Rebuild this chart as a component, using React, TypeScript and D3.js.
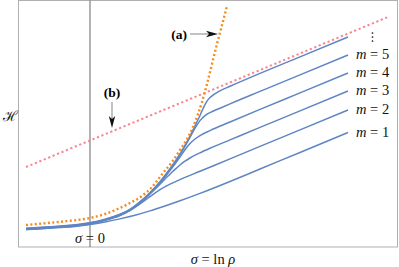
import * as d3 from "d3";
import React, { useEffect, useRef } from "react";

const W = 399;
const H = 267;

// curve samples, [sigma, H]
const curveA: [number, number][] = [
  [-1.6, 0.55], [-1.0, 0.605], [-0.5, 0.655], [0, 0.725], [0.375, 0.825], [0.75, 0.975],
  [1.0, 1.1], [1.3, 1.275], [1.55, 1.5], [1.825, 1.85], [2.05, 2.125], [2.25, 2.425],
  [2.425, 2.7], [2.575, 3.0], [2.7, 3.325], [2.8, 3.625], [2.925, 4.075], [3.05, 4.575],
  [3.175, 5.075], [3.3, 5.55], [3.425, 6.025],
];

const lineB: [number, number][] = [[-1.6, 2.0], [7.45, 5.75]];

const curveTop: [number, number][] = [
  [-1.6, 0.468], [-1.0, 0.505], [-0.5, 0.543], [0, 0.605], [0.375, 0.693], [0.75, 0.818],
  [1.0, 0.943], [1.25, 1.13], [1.5, 1.355], [1.75, 1.63], [2.0, 1.955], [2.25, 2.33],
  [2.45, 2.68], [2.625, 3.03], [2.75, 3.288], [2.85, 3.51], [2.925, 3.645], [3.0, 3.735],
  [3.1, 3.815], [3.25, 3.905], [3.5, 4.018], [4.25, 4.34], [5.25, 4.753], [6.45, 5.25],
];
const curveM5: [number, number][] = [
  [-1.6, 0.46], [-1.0, 0.498], [-0.5, 0.535], [0, 0.598], [0.375, 0.685], [0.75, 0.81],
  [1.0, 0.935], [1.25, 1.123], [1.5, 1.348], [1.75, 1.623], [2.0, 1.948], [2.25, 2.31],
  [2.5, 2.74], [2.625, 2.97], [2.75, 3.16], [2.875, 3.285], [3.0, 3.36], [3.25, 3.47],
  [3.5, 3.578], [4.25, 3.89], [5.25, 4.303], [6.45, 4.8],
];
const curveM4: [number, number][] = [
  [-1.6, 0.453], [-1.0, 0.49], [-0.5, 0.528], [0, 0.59], [0.375, 0.678], [0.75, 0.803],
  [1.0, 0.928], [1.25, 1.115], [1.5, 1.34], [1.75, 1.6], [2.0, 1.91], [2.25, 2.25],
  [2.375, 2.43], [2.5, 2.585], [2.625, 2.7], [2.75, 2.785], [3.0, 2.91], [3.5, 3.125],
  [4.25, 3.44], [5.25, 3.853], [6.45, 4.35],
];
const curveM3: [number, number][] = [
  [-1.6, 0.445], [-1.0, 0.483], [-0.5, 0.52], [0, 0.583], [0.375, 0.67], [0.75, 0.795],
  [1.0, 0.92], [1.25, 1.1], [1.5, 1.325], [1.75, 1.57], [1.875, 1.7], [2.0, 1.82],
  [2.125, 1.94], [2.25, 2.05], [2.375, 2.145], [2.5, 2.225], [2.75, 2.355], [3.0, 2.47],
  [3.5, 2.678], [4.25, 2.99], [5.25, 3.403], [6.45, 3.9],
];
const curveM2: [number, number][] = [
  [-1.6, 0.44], [-1.0, 0.478], [-0.5, 0.515], [0, 0.575], [0.25, 0.638], [0.75, 0.788],
  [1.0, 0.908], [1.25, 1.078], [1.5, 1.258], [1.75, 1.433], [2.0, 1.57], [2.25, 1.685],
  [2.75, 1.893], [3.5, 2.203], [4.25, 2.515], [5.25, 2.928], [6.45, 3.425],
];
const curveM1: [number, number][] = [
  [-1.6, 0.435], [-1.125, 0.465], [-0.75, 0.488], [-0.375, 0.515], [0, 0.56], [0.375, 0.625],
  [0.75, 0.703], [1.125, 0.795], [1.5, 0.903], [1.875, 1.025], [2.25, 1.155], [2.75, 1.34],
  [3.5, 1.638], [4.25, 1.95], [5.25, 2.363], [6.45, 2.863],
];

const blueCurves = [curveTop, curveM5, curveM4, curveM3, curveM2, curveM1];
const curveLabels = ["5", "4", "3", "2", "1"];

// annotation anchors
const arrowA: [number, number] = [3.2, 5.325];
const arrowB: [number, number] = [0.55, 2.975];

const serif = "'Liberation Serif', 'Times New Roman', 'DejaVu Serif', serif";

export default function App() {
  const svgRef = useRef<SVGSVGElement>(null);

  useEffect(() => {
    document.body.style.margin = "0";
    const svg = d3.select(svgRef.current);
    svg.selectAll("*").remove();

    const x = d3.scaleLinear().domain([-1.8, 7.7]).range([18, 398]);
    const y = d3.scaleLinear().domain([0, 6.175]).range([247, 0]);

    const line = d3.line<[number, number]>()
      .x(d => x(d[0]))
      .y(d => y(d[1]))
      .curve(d3.curveMonotoneX);

    // frame
    svg.append("rect")
      .attr("x", 18.5).attr("y", 0.5)
      .attr("width", 379).attr("height", 246.5)
      .attr("fill", "none").attr("stroke", "#b0b0b0").attr("stroke-width", 1);

    // sigma = 0
    svg.append("line")
      .attr("x1", x(0)).attr("x2", x(0))
      .attr("y1", 0.5).attr("y2", 247)
      .attr("stroke", "#666").attr("stroke-width", 1);

    // blue curves
    svg.append("g").selectAll("path")
      .data(blueCurves)
      .join("path")
      .attr("d", d => line(d))
      .attr("fill", "none")
      .attr("stroke", "#5f85c3")
      .attr("stroke-width", 1.5);

    // (b) line
    svg.append("path")
      .attr("d", line.curve(d3.curveLinear)(lineB))
      .attr("fill", "none")
      .attr("stroke", "#f7868f")
      .attr("stroke-width", 2)
      .attr("stroke-dasharray", "2.2,2.6");

    // (a) curve
    svg.append("path")
      .attr("d", line.curve(d3.curveMonotoneX)(curveA))
      .attr("fill", "none")
      .attr("stroke", "#f48c1c")
      .attr("stroke-width", 2.4)
      .attr("stroke-dasharray", "2,2.4");

    // labels for curves m = 5 .. 1
    const lab = svg.append("g").style("font-family", serif).style("font-size", "14.5px").attr("fill", "#111");
    blueCurves.slice(1).forEach((c, i) => {
      const end = c[c.length - 1];
      const t = lab.append("text")
        .attr("x", x(end[0]) + 8)
        .attr("y", y(end[1]) - 1)
        .attr("dy", "0.35em");
      t.append("tspan").style("font-style", "italic").text("m");
      t.append("tspan").text(" = " + curveLabels[i]);
    });

    // vertical ellipsis above m = 5, drawn as three dots
    const topEnd = curveTop[curveTop.length - 1];
    const ex = x(topEnd[0]) + 24.5, ey = y(topEnd[1]);
    svg.append("g").selectAll("circle")
      .data([-4, 0, 4])
      .join("circle")
      .attr("cx", ex).attr("cy", d => ey + d)
      .attr("r", 0.85)
      .attr("fill", "#111");

    // arrows
    const arrowHead = (tx: number, ty: number, dx: number, dy: number) => {
      const len = 12, half = 3.2, notch = 9;
      const px = -dy, py = dx;
      const bx = tx - dx * len, by = ty - dy * len;
      const nx = tx - dx * notch, ny = ty - dy * notch;
      return `M${tx},${ty}L${bx + px * half},${by + py * half}L${nx},${ny}L${bx - px * half},${by - py * half}Z`;
    };

    const ax = x(arrowA[0]), ay = y(arrowA[1]);
    svg.append("line")
      .attr("x1", ax - 28).attr("x2", ax - 8).attr("y1", ay).attr("y2", ay)
      .attr("stroke", "#999").attr("stroke-width", 1.2);
    svg.append("path").attr("d", arrowHead(ax, ay, 1, 0)).attr("fill", "#111");
    svg.append("text")
      .attr("x", ax - 31).attr("y", ay).attr("dy", "0.35em")
      .attr("text-anchor", "end")
      .style("font-family", serif).style("font-size", "13.5px").style("font-weight", "bold")
      .text("(a)");

    const bx = x(arrowB[0]), by = y(arrowB[1]);
    svg.append("line")
      .attr("x1", bx).attr("x2", bx).attr("y1", by - 26).attr("y2", by - 8)
      .attr("stroke", "#999").attr("stroke-width", 1.2);
    svg.append("path").attr("d", arrowHead(bx, by, 0, 1)).attr("fill", "#111");
    svg.append("text")
      .attr("x", bx).attr("y", by - 31)
      .attr("text-anchor", "middle")
      .style("font-family", serif).style("font-size", "13.5px").style("font-weight", "bold")
      .text("(b)");

    // axis texts
    const s0 = svg.append("text")
      .attr("x", x(0)).attr("y", 243)
      .attr("text-anchor", "middle")
      .style("font-family", serif).style("font-size", "14.5px").attr("fill", "#111");
    s0.append("tspan").style("font-style", "italic").text("\u03C3");
    s0.append("tspan").text(" = 0");

    const xl = svg.append("text")
      .attr("x", 213).attr("y", 264)
      .attr("text-anchor", "middle")
      .style("font-family", serif).style("font-size", "14.5px").attr("fill", "#111");
    xl.append("tspan").style("font-style", "italic").text("\u03C3");
    xl.append("tspan").text(" = ln ");
    xl.append("tspan").style("font-style", "italic").text("\u03C1");

    svg.append("text")
      .attr("x", 10).attr("y", 116).attr("dy", "0.35em")
      .attr("text-anchor", "middle")
      .style("font-family", "'DejaVu Serif', serif").style("font-size", "14px").attr("fill", "#111")
      .text("\u210B");
  }, []);

  return <svg ref={svgRef} width={W} height={H} style={{ display: "block", background: "#fff" }} />;
}
